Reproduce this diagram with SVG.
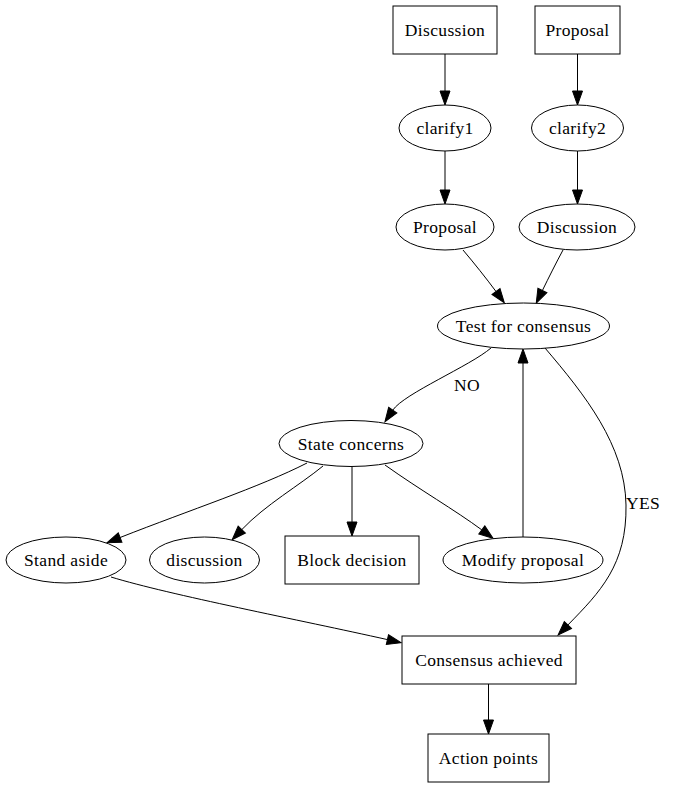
<svg xmlns="http://www.w3.org/2000/svg" width="681" height="787" viewBox="0 0 681 787">
<style>
.n{fill:#fff;stroke:#000;stroke-width:1}
.t{font-family:"Liberation Serif","Times New Roman",serif;font-size:17.5px;letter-spacing:0.35px;text-anchor:middle;fill:#000}
.l{font-family:"Liberation Serif","Times New Roman",serif;font-size:17.5px;letter-spacing:0.35px;fill:#000}
.e{fill:none;stroke:#000;stroke-width:1;marker-end:url(#ah)}
</style>
<defs>
<marker id="ah" markerUnits="userSpaceOnUse" markerWidth="14" markerHeight="10" refX="0" refY="5" orient="auto" overflow="visible">
<path d="M0,0 L14,5 L0,10 Z" fill="#000" stroke="#000" stroke-width="1"/>
</marker>
</defs>
<rect width="681" height="787" fill="#fff"/>
<g id="edges">
<path class="e" d="M445,54 L445,91"/>
<path class="e" d="M577.5,54 L577.5,91"/>
<path class="e" d="M445,151 L445,190"/>
<path class="e" d="M577.5,151 L577.5,190"/>
<path class="e" d="M463,250 C474,263 486,278 496,291.5"/>
<path class="e" d="M563,250 C556,263 549,277 542.4,290.5"/>
<path class="e" d="M491,348 C470,366 404,393.6 392.8,410.1"/>
<path class="e" d="M523,537 L523,363"/>
<path class="e" d="M545,348 C585,395 625,445 626,505 C627,565 600,592 567.9,625"/>
<path class="e" d="M307,463 C260,487 190,510 120.1,537.5"/>
<path class="e" d="M323,466 C300,485 265,505 241.8,529.6"/>
<path class="e" d="M352,467 L352,522"/>
<path class="e" d="M385,465 C420,490 455,510 481.8,529.9"/>
<path class="e" d="M111,577 C170,595 300,620 387.4,639.6"/>
<path class="e" d="M488.5,684 L488.5,720"/>
<text class="t" x="467" y="391">NO</text>
<text class="l" x="626" y="509">YES</text>
</g>
<g id="n_discussion_box"><rect class="n" x="393" y="6" width="104" height="48"/><text class="t" x="445" y="36">Discussion</text></g>
<g id="n_proposal_box"><rect class="n" x="535" y="6" width="85" height="48"/><text class="t" x="577.5" y="36">Proposal</text></g>
<g id="n_clarify1"><ellipse class="n" cx="445" cy="128" rx="46" ry="23"/><text class="t" x="445" y="134">clarify1</text></g>
<g id="n_clarify2"><ellipse class="n" cx="577.5" cy="128" rx="46" ry="23"/><text class="t" x="577.5" y="134">clarify2</text></g>
<g id="n_proposal_ell"><ellipse class="n" cx="445" cy="227" rx="49" ry="23"/><text class="t" x="445" y="233">Proposal</text></g>
<g id="n_discussion_ell"><ellipse class="n" cx="577" cy="227" rx="58" ry="23"/><text class="t" x="577" y="233">Discussion</text></g>
<g id="n_test"><ellipse class="n" cx="523.5" cy="326" rx="86" ry="23"/><text class="t" x="523.5" y="332">Test for consensus</text></g>
<g id="n_state"><ellipse class="n" cx="351" cy="443.5" rx="72" ry="23"/><text class="t" x="351" y="449.5">State concerns</text></g>
<g id="n_stand"><ellipse class="n" cx="66" cy="560" rx="60" ry="23"/><text class="t" x="66" y="566">Stand aside</text></g>
<g id="n_disc_small"><ellipse class="n" cx="204.5" cy="560" rx="55" ry="23"/><text class="t" x="204.5" y="566">discussion</text></g>
<g id="n_block"><rect class="n" x="285" y="536" width="134" height="48"/><text class="t" x="352" y="566">Block decision</text></g>
<g id="n_modify"><ellipse class="n" cx="523" cy="560" rx="80" ry="23"/><text class="t" x="523" y="566">Modify proposal</text></g>
<g id="n_consensus"><rect class="n" x="402" y="636" width="174" height="48"/><text class="t" x="489" y="666">Consensus achieved</text></g>
<g id="n_action"><rect class="n" x="428" y="734" width="121" height="48"/><text class="t" x="488.5" y="764">Action points</text></g>
</svg>
